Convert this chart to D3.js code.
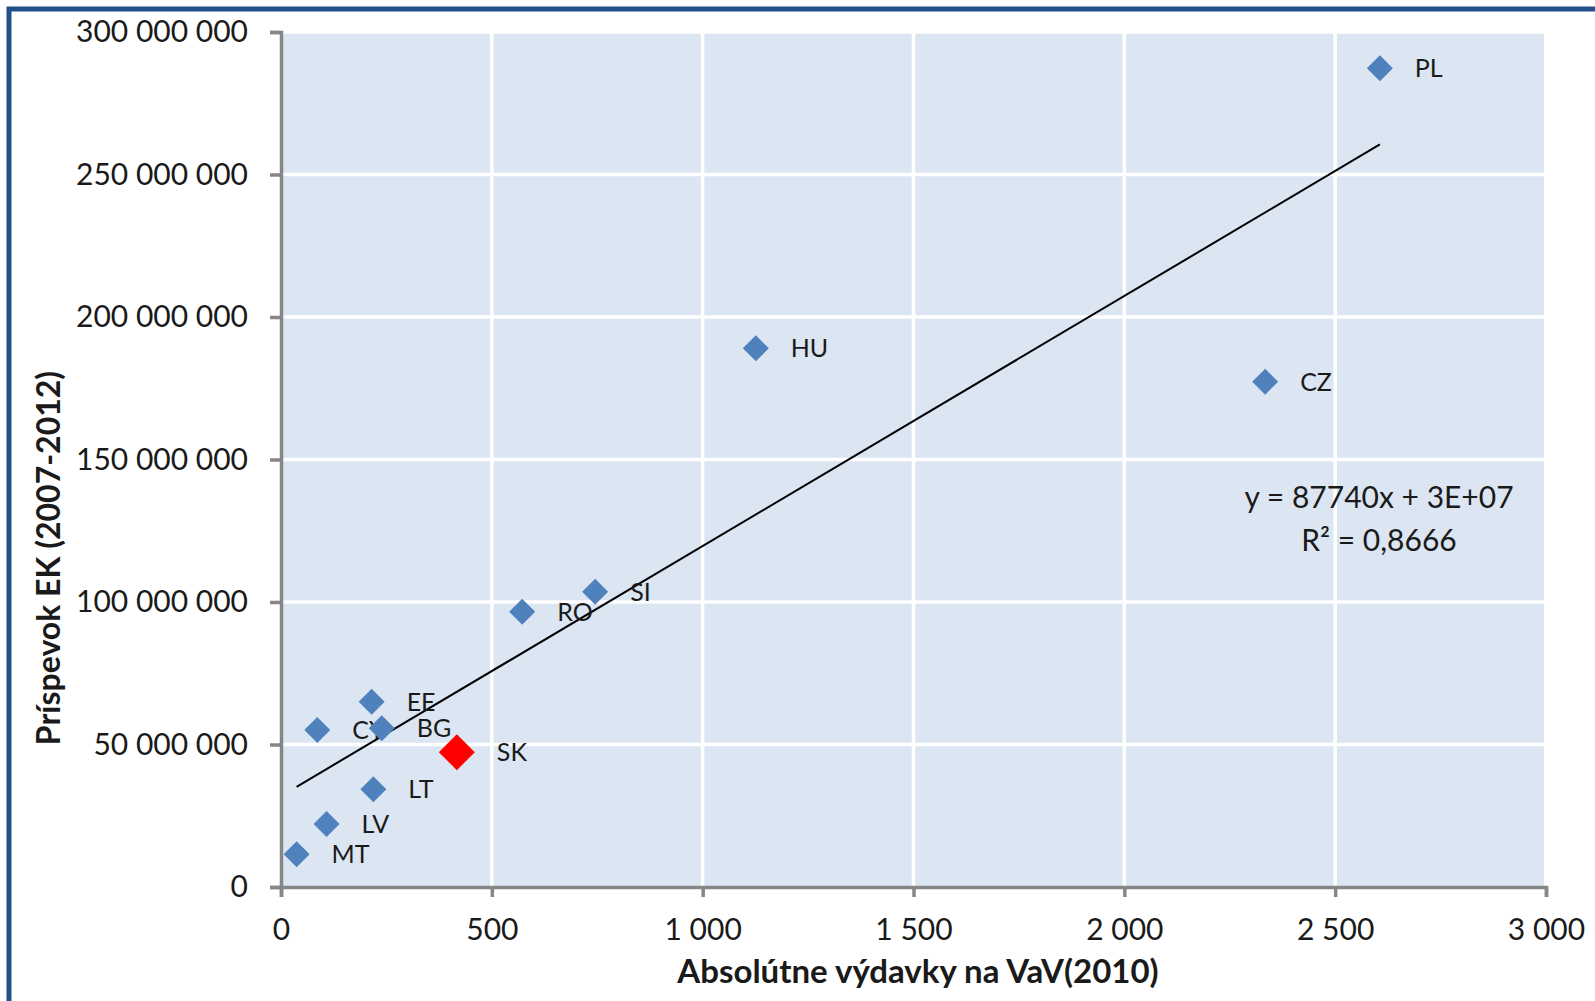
<!DOCTYPE html>
<html>
<head>
<meta charset="utf-8">
<script src="https://cdnjs.cloudflare.com/ajax/libs/d3/7.8.5/d3.min.js"></script>
<style>
  body { margin:0; background:#fff; }
  svg text { font-family: Lato, "Open Sans", sans-serif; fill:#1a1a1a; }
</style>
</head>
<body>
<div id="chart"></div>
<script>
// countries, R&D spend 2010 and EC contribution 2007-2012
var countries = ["PL","HU","CZ","SI","RO","EE","CY","BG","SK","LT","LV","MT"];
var rdSpend = [2606, 1126, 2334, 745, 572, 215, 86, 239, 417, 219, 108, 37];
var ecContribution = [287.3e6, 189.0e6, 177.3e6, 103.6e6, 96.6e6, 65.0e6, 55.1e6, 55.7e6, 47.3e6, 34.3e6, 22.1e6, 11.5e6];
var highlight = "SK";

var xTicks = [0, 500, 1000, 1500, 2000, 2500, 3000];
var yTicks = [0, 50e6, 100e6, 150e6, 200e6, 250e6, 300e6];

var trendSlope = 87740;
var trendIntercept = 31.9e6;
var trendText = ["y = 87740x + 3E+07", "R² = 0,8666"];

var xTitle = "Absolútne výdavky na VaV(2010)";
var yTitle = "Príspevok EK (2007-2012)";

var W = 1595, H = 1001;
var plotLeft = 281, plotRight = 1546, plotTop = 32, plotBottom = 887;

var fmt = function(v) {
  return d3.format(",")(v).replace(/,/g, " ");
};

var svg = d3.select("#chart").append("svg")
  .attr("width", W)
  .attr("height", H);

// outer frame
svg.append("rect")
  .attr("x", 9).attr("y", 9)
  .attr("width", 1700).attr("height", 1200)
  .attr("fill", "none")
  .attr("stroke", "#23508a")
  .attr("stroke-width", 5);

var x = d3.scaleLinear().domain([0, 3000]).range([plotLeft, plotRight]);
var y = d3.scaleLinear().domain([0, 300e6]).range([plotBottom, plotTop]);

svg.append("rect")
  .attr("x", plotLeft).attr("y", plotTop)
  .attr("width", plotRight - plotLeft - 2).attr("height", plotBottom - plotTop)
  .attr("fill", "#dce6f2");

// gridlines
svg.append("g").selectAll("line").data(xTicks.slice(1, -1)).enter().append("line")
  .attr("x1", function(d) { return x(d); }).attr("x2", function(d) { return x(d); })
  .attr("y1", plotTop).attr("y2", plotBottom)
  .attr("stroke", "#fff").attr("stroke-width", 3.5);
svg.append("g").selectAll("line").data(yTicks.slice(1)).enter().append("line")
  .attr("x1", plotLeft).attr("x2", plotRight - 2)
  .attr("y1", function(d) { return y(d); }).attr("y2", function(d) { return y(d); })
  .attr("stroke", "#fff").attr("stroke-width", 3.5);

// axes
var xAxis = svg.append("g")
  .attr("transform", "translate(0," + plotBottom + ")")
  .call(d3.axisBottom(x).tickValues(xTicks).tickFormat(fmt).tickSizeInner(10).tickSizeOuter(10).tickPadding(22));
var yAxis = svg.append("g")
  .attr("transform", "translate(" + plotLeft + ",0)")
  .call(d3.axisLeft(y).tickValues(yTicks).tickFormat(fmt).tickSizeInner(11).tickSizeOuter(11).tickPadding(22));

[xAxis, yAxis].forEach(function(a) {
  a.select(".domain").attr("stroke", "#868686").attr("stroke-width", 3.5);
  a.selectAll(".tick line").attr("stroke", "#868686").attr("stroke-width", 3.5);
  a.selectAll(".tick text").attr("font-size", 30).attr("fill", "#1a1a1a")
    .attr("font-family", "Lato, 'Open Sans', sans-serif");
});
xAxis.selectAll(".tick text").attr("dy", "0.7em");

// trend line
var xMin = d3.min(rdSpend), xMax = d3.max(rdSpend);
svg.append("line")
  .attr("x1", x(xMin)).attr("y1", y(trendSlope * xMin + trendIntercept))
  .attr("x2", x(xMax)).attr("y2", y(trendSlope * xMax + trendIntercept))
  .attr("stroke", "#000").attr("stroke-width", 2);

// points
var points = countries.map(function(c, i) {
  return { name: c, vx: rdSpend[i], vy: ecContribution[i] };
});

var g = svg.append("g");
points.forEach(function(p) {
  var r = p.name == highlight ? 18 : 13;
  var px = x(p.vx), py = y(p.vy);
  g.append("path")
    .attr("d", "M" + px + "," + (py - r) + "L" + (px + r) + "," + py + "L" + px + "," + (py + r) + "L" + (px - r) + "," + py + "Z")
    .attr("fill", p.name == highlight ? "#ff0000" : "#4f81bd");
  g.append("text")
    .attr("x", px + r + 22)
    .attr("y", py)
    .attr("dy", "0.36em")
    .attr("font-size", 25)
    .text(p.name);
});

// equation
var eq = svg.append("text")
  .attr("text-anchor", "middle")
  .attr("font-size", 30);
eq.append("tspan").attr("x", 1379).attr("y", 508).text(trendText[0]);
eq.append("tspan").attr("x", 1379).attr("y", 551).text(trendText[1]);

// axis titles
svg.append("text")
  .attr("x", 918).attr("y", 983)
  .attr("text-anchor", "middle")
  .attr("font-size", 33)
  .attr("font-weight", "bold")
  .text(xTitle);

svg.append("text")
  .attr("transform", "translate(60,558) rotate(-90)")
  .attr("text-anchor", "middle")
  .attr("font-size", 32)
  .attr("font-weight", "bold")
  .text(yTitle);
</script>
</body>
</html>
